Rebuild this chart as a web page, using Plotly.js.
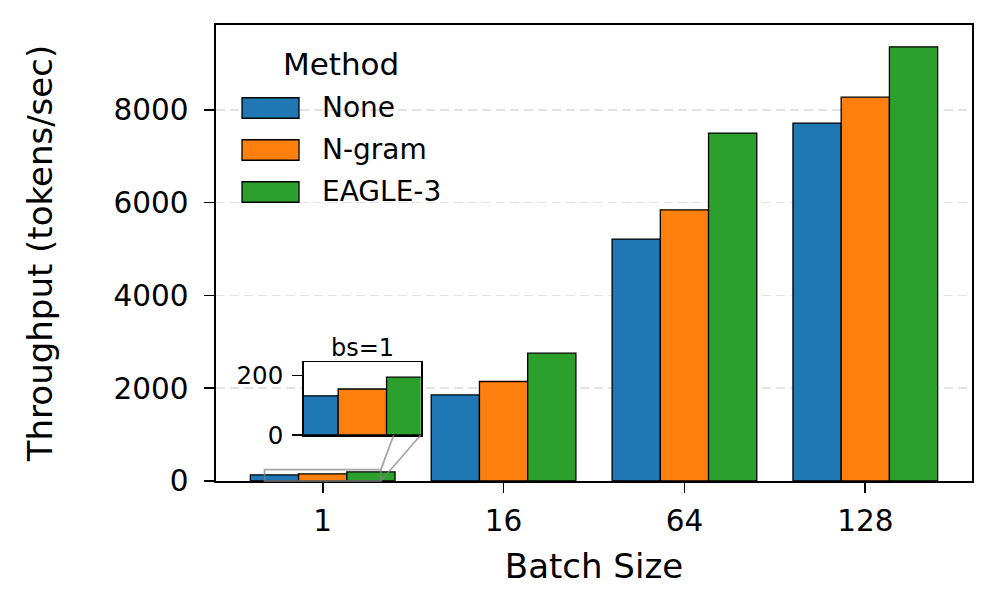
<!DOCTYPE html>
<html>
<head>
<meta charset="utf-8">
<script src="https://cdn.plot.ly/plotly-3.0.1.min.js"></script>
<style>html,body{margin:0;padding:0;background:#fff;}#chart{width:997px;height:611px;}</style>
</head>
<body>
<div id="chart"></div>
<script>
// ---- data ----
const batchSizes = ["1", "16", "64", "128"];
const methods = ["None", "N-gram", "EAGLE-3"];
const noneVals = [132, 1855, 5215, 7715];
const ngramVals = [155, 2145, 5845, 8275];
const eagleVals = [195, 2755, 7500, 9360];
const seriesVals = [noneVals, ngramVals, eagleVals];
const colors = ["#1f77b4", "#ff7f0e", "#2ca02c"];
const yTicks = [0, 2000, 4000, 6000, 8000];
const insetTicks = [0, 200];
const insetTitle = "bs=1";
const legendTitle = "Method";
const xTitle = "Batch Size";
const yTitle = "Throughput (tokens/sec)";

// ---- layout constants ----
const xRange = [-0.59, 3.59];
const yRange = [0, 9830];
const insetXRange = [-0.3215, 0.3215];
const insetYRange = [0, 245];
const insetDomX = [0.1164, 0.2708];
const insetDomY = [0.1009, 0.2603];
const FONT = "DejaVu Sans, sans-serif";

const traces = [];
methods.forEach((m, i) => {
  traces.push({
    type: "bar", name: m, x: batchSizes, y: seriesVals[i],
    marker: {color: colors[i], line: {color: "#000", width: 1.3}},
    xaxis: "x", yaxis: "y", showlegend: false, hoverinfo: "x+y+name"
  });
});
methods.forEach((m, i) => {
  traces.push({
    type: "bar", name: m, x: [batchSizes[0]], y: [seriesVals[i][0]],
    marker: {color: colors[i], line: {color: "#000", width: 1.3}},
    xaxis: "x2", yaxis: "y2", showlegend: false, hoverinfo: "x+y+name"
  });
});

// paper coordinate helpers for main axes
const px = v => (v - xRange[0]) / (xRange[1] - xRange[0]);
const py = v => (v - yRange[0]) / (yRange[1] - yRange[0]);

const shapes = [];
// zoom indicator rectangle
const rx0 = px(insetXRange[0]), rx1 = px(insetXRange[1]);
const ry0 = py(insetYRange[0]), ry1 = py(insetYRange[1]);
const grayLine = {color: "rgba(128,128,128,0.7)", width: 1.8};
shapes.push({type: "rect", xref: "paper", yref: "paper", x0: rx0, x1: rx1, y0: ry0, y1: ry1,
  line: grayLine, fillcolor: "rgba(0,0,0,0)", layer: "above"});
// connectors (top-right -> inset top-right, bottom-right -> inset bottom-right), hidden behind inset
function connector(ax, ay, bx, by) {
  let ex = bx, ey = by;
  if (by > insetDomY[0]) {
    const t = (insetDomY[0] - ay) / (by - ay);
    ex = ax + t * (bx - ax); ey = insetDomY[0];
  }
  shapes.push({type: "line", xref: "paper", yref: "paper", x0: ax, y0: ay, x1: ex, y1: ey,
    line: grayLine, layer: "above"});
}
connector(rx1, ry1, insetDomX[1], insetDomY[1]);
connector(rx1, ry0, insetDomX[1], insetDomY[0]);

// custom legend
const annotations = [];
const legRowY = [0.818, 0.7259, 0.6338];
const swX0 = 0.0344, swX1 = 0.1098, swHalf = 0.0225;
methods.forEach((m, i) => {
  shapes.push({type: "rect", xref: "paper", yref: "paper", x0: swX0, x1: swX1,
    y0: legRowY[i] - swHalf, y1: legRowY[i] + swHalf,
    fillcolor: colors[i], line: {color: "#000", width: 1.3}, layer: "above"});
  annotations.push({xref: "paper", yref: "paper", x: 0.138, y: legRowY[i], xanchor: "left", yanchor: "middle",
    text: m, showarrow: false, font: {family: FONT, size: 28, color: "#000"}});
});
annotations.push({xref: "paper", yref: "paper", x: 0.1655, y: 0.9145, xanchor: "center", yanchor: "middle",
  text: legendTitle, showarrow: false, font: {family: FONT, size: 31, color: "#000"}});
// inset title
annotations.push({xref: "paper", yref: "paper", x: (insetDomX[0] + insetDomX[1]) / 2, y: insetDomY[1] - 0.004,
  xanchor: "center", yanchor: "bottom", text: insetTitle, showarrow: false,
  font: {family: FONT, size: 24, color: "#000"}});

const layout = {
  width: 997, height: 611,
  margin: {l: 216, r: 25, t: 25, b: 130},
  paper_bgcolor: "#fff", plot_bgcolor: "#fff",
  font: {family: FONT, size: 29, color: "#000"},
  barmode: "group", bargap: 0.2, bargroupgap: 0,
  showlegend: false,
  xaxis: {
    type: "category", categoryorder: "array", categoryarray: batchSizes,
    range: xRange, showline: true, mirror: true, linecolor: "#000", linewidth: 1.6,
    ticks: "outside", ticklen: 10, tickwidth: 1.6, tickcolor: "#000", ticklabelstandoff: 3,
    showgrid: false, zeroline: false,
    title: {text: xTitle, font: {family: FONT, size: 34}, standoff: 17},
    tickfont: {family: FONT, size: 29.5}
  },
  yaxis: {
    range: yRange, tickvals: yTicks, ticktext: yTicks.map(String),
    showline: true, mirror: true, linecolor: "#000", linewidth: 1.6,
    ticks: "outside", ticklen: 10, tickwidth: 1.6, tickcolor: "#000", ticklabelstandoff: 10,
    showgrid: true, gridcolor: "#e3e3e3", gridwidth: 1.5, griddash: "9px,5px",
    zeroline: false,
    title: {text: yTitle, font: {family: FONT, size: 34}, standoff: 50},
    tickfont: {family: FONT, size: 29.5}
  },
  xaxis2: {
    type: "category", domain: insetDomX, anchor: "y2", range: insetXRange,
    showline: true, mirror: true, linecolor: "#000", linewidth: 1.8,
    showticklabels: false, ticks: "", showgrid: false, zeroline: false
  },
  yaxis2: {
    domain: insetDomY, anchor: "x2", range: insetYRange, tickvals: insetTicks,
    showline: true, mirror: true, linecolor: "#000", linewidth: 1.8,
    ticks: "outside", ticklen: 10, tickwidth: 1.5, tickcolor: "#000", ticklabelstandoff: 4,
    showgrid: false, zeroline: false,
    tickfont: {family: FONT, size: 24.5}
  },
  shapes: shapes,
  annotations: annotations
};

Plotly.newPlot("chart", traces, layout, {staticPlot: true});
</script>
</body>
</html>
